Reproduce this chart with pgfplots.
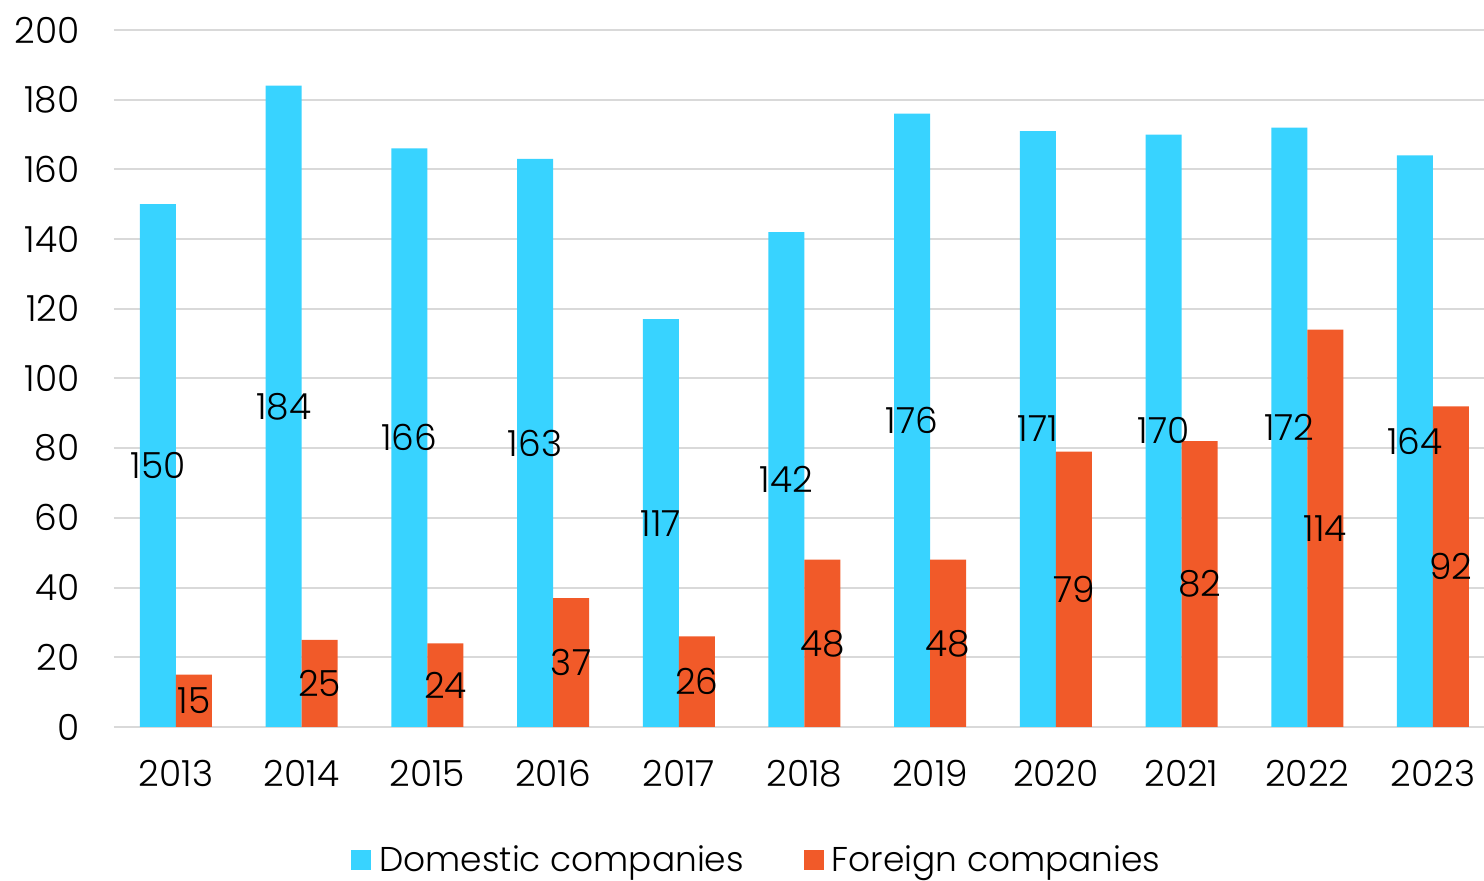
\documentclass[border=0pt]{standalone}
\usepackage{fontspec}
\setmainfont{Poppins}[UprightFont=* Light]
\usepackage{pgfplots}
\pgfplotsset{compat=1.18}
\definecolor{dom}{HTML}{38D3FF}
\definecolor{forn}{HTML}{F15A29}
\definecolor{gridc}{HTML}{D9D9D9}
\begin{document}
\begin{tikzpicture}
\begin{axis}[
  scale only axis,
  width=685pt, height=348.5pt,
  ybar=0pt, bar width=18pt,
  xmin=-0.493, xmax=10.406,
  ymin=0, ymax=200,
  ytick={0,20,...,200},
  xtick=data,
  xticklabels={2013,2014,2015,2016,2017,2018,2019,2020,2021,2022,2023},
  axis line style={draw=none},
  major tick length=0pt,
  ymajorgrids,
  grid style={gridc, line width=1pt},
  /pgf/number format/assume math mode=true,
  tick label style={font=\fontsize{18}{21}\selectfont, inner sep=0pt},
  yticklabel style={xshift=-17pt},
  xticklabel style={yshift=-16.5pt},
  legend style={at={(0.470,-0.191)}, anchor=center, draw=none, fill=none,
    font=\fontsize{17.2}{20}\selectfont, legend columns=2,
    /tikz/every even column/.append style={column sep=28pt}},
  legend image code/.code={\fill[#1,draw=none] (0pt,-5pt) rectangle (10pt,5pt); \path (12pt,0pt);},
  visualization depends on={y \as \rawy},
  nodes near coords,
  every node near coord/.append style={font=\fontsize{18}{21}\selectfont, anchor=center, inner sep=0pt,
    shift={(axis direction cs:0,-\rawy/2)}},
]
\addplot[fill=dom, draw=none] coordinates {(0,150) (1,184) (2,166) (3,163) (4,117) (5,142) (6,176) (7,171) (8,170) (9,172) (10,164)};
\addplot[fill=forn, draw=none] coordinates {(0,15) (1,25) (2,24) (3,37) (4,26) (5,48) (6,48) (7,79) (8,82) (9,114) (10,92)};
\legend{Domestic companies, Foreign companies}
\end{axis}
\pgfresetboundingbox
\path ([xshift=-57pt,yshift=-77pt]current axis.south west) rectangle ([yshift=15pt]current axis.north east);
\end{tikzpicture}
\end{document}
